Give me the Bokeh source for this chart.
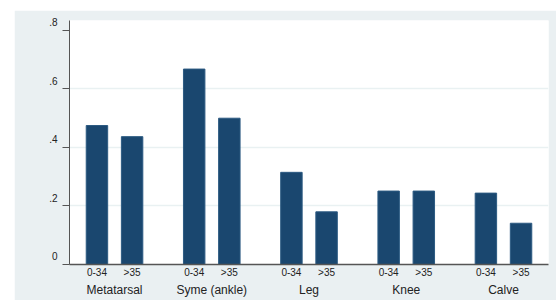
from bokeh.plotting import figure
from bokeh.models import FactorRange, Range1d, FixedTicker, ColumnDataSource, LinearAxis
from bokeh.embed import file_html
from bokeh.resources import INLINE

groups = ["Metatarsal", "Syme (ankle)", "Leg", "Knee", "Calve"]
subgroups = ["0-34", ">35"]
young = [0.475, 0.668, 0.315, 0.251, 0.244]
older = [0.437, 0.500, 0.180, 0.251, 0.141]
y_ticks = [0, 0.2, 0.4, 0.6, 0.8]
y_tick_labels = ["0", ".2", ".4", ".6", ".8"]

factors = [(g, s) for g in groups for s in subgroups]
values = []
for a, b in zip(young, older):
    values += [a, b]
src = ColumnDataSource(data=dict(x=factors, top=values))

xr = FactorRange(*factors, group_padding=0.766, range_padding=0.043)
p = figure(x_range=xr, y_range=Range1d(0, 0.834), width=542, height=290,
           output_backend="svg", toolbar_location=None,
           min_border_left=55, min_border_right=8, min_border_top=10, min_border_bottom=36)
p.margin = (10, 0, 0, 14)

p.vbar(x="x", top="top", width=0.61, source=src,
       fill_color="#1a476f", line_color="#2c5a82", line_width=1)

p.background_fill_color = "white"
p.border_fill_color = "#eaf0f2"
p.outline_line_color = None

p.xgrid.grid_line_color = None
p.ygrid.ticker = FixedTicker(ticks=[0.2, 0.4, 0.6])
p.ygrid.grid_line_color = "#e9f1f2"
p.ygrid.grid_line_width = 1.5

# main y axis: line and ticks only
ya = p.yaxis[0]
ya.ticker = FixedTicker(ticks=y_ticks)
ya.major_label_overrides = {t: "" for t in y_ticks}
ya.major_tick_out = 7
ya.major_tick_in = 0
ya.minor_tick_line_color = None
ya.axis_line_color = "#555555"
ya.major_tick_line_color = "#555555"
ya.major_label_standoff = 0

# tick labels, drawn slightly above their ticks as in the reference
shift = 0.028
label_pos = [round(t + shift, 3) for t in y_ticks]
la = LinearAxis(ticker=FixedTicker(ticks=label_pos),
                major_label_overrides={pos: lab for pos, lab in zip(label_pos, y_tick_labels)},
                axis_line_color=None, major_tick_line_color=None, minor_tick_line_color=None,
                major_tick_out=0, major_tick_in=0, major_label_standoff=5,
                major_label_text_font="Liberation Sans", major_label_text_font_size="10px",
                major_label_text_color="#222222")
p.add_layout(la, "left")

xa = p.xaxis[0]
xa.axis_line_color = "#555555"
xa.axis_line_width = 1.5
xa.major_tick_line_color = None
xa.major_tick_out = 0
xa.major_tick_in = 0
xa.minor_tick_line_color = None
xa.separator_line_color = None
xa.major_label_text_font = "Liberation Sans"
xa.major_label_text_font_size = "10px"
xa.major_label_text_color = "#222222"
xa.major_label_standoff = 2
xa.group_text_font = "Liberation Sans"
xa.group_text_font_size = "12px"
xa.group_text_font_style = "normal"
xa.group_text_color = "#222222"

open("out.html", "w").write(file_html(p, INLINE))
